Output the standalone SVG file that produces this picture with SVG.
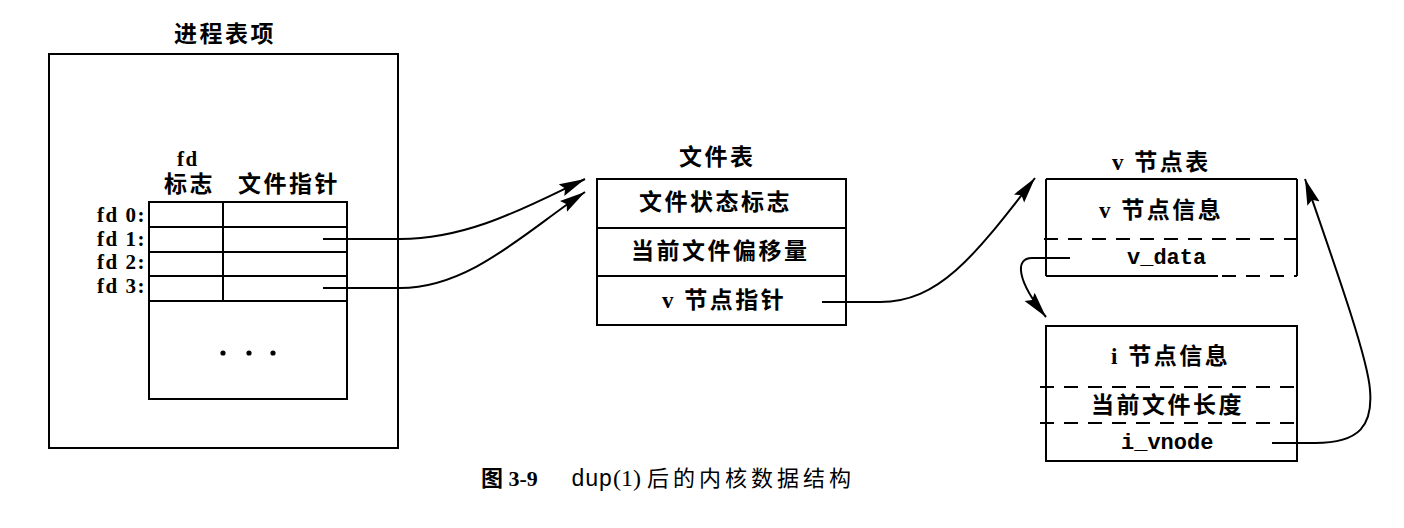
<svg xmlns="http://www.w3.org/2000/svg" width="1404" height="528" viewBox="0 0 1404 528">
<style>
.box{fill:none;stroke:#000;stroke-width:2}
.ln{fill:none;stroke:#000;stroke-width:2}
.dash{fill:none;stroke:#000;stroke-width:2;stroke-dasharray:14 10}
.cn{fill:none;stroke:#000;stroke-width:2}
.cjk{font-family:"Liberation Serif","Noto Sans CJK SC",serif;font-weight:bold;font-size:23px;letter-spacing:2.5px;fill:#000}
.lab{font-family:"Liberation Serif","Noto Sans CJK SC",serif;font-weight:bold;font-size:21px;letter-spacing:1.5px;fill:#000}
.mono{font-family:"Liberation Mono",monospace;font-weight:bold;font-size:22px;fill:#000}
</style>
<defs>
<marker id="ah" markerUnits="userSpaceOnUse" markerWidth="30" markerHeight="16" refX="26" refY="6.5" orient="auto">
<path d="M0,0 L26,6.5 L0,13 L4,6.5 z" fill="#000"/>
</marker>
</defs>
<rect width="1404" height="528" fill="#fff"/>

<g id="process-entry">
<text class="cjk" x="174" y="42">进程表项</text>
<rect class="box" x="49" y="54" width="349" height="394"/>
<text class="lab" x="177" y="166">fd</text>
<text class="cjk" x="164" y="192">标志</text>
<text class="cjk" x="238" y="192">文件指针</text>
<rect class="box" x="149" y="202" width="198" height="197"/>
<line class="ln" x1="149" y1="227" x2="347" y2="227"/>
<line class="ln" x1="149" y1="252" x2="347" y2="252"/>
<line class="ln" x1="149" y1="276" x2="347" y2="276"/>
<line class="ln" x1="149" y1="301" x2="347" y2="301"/>
<line class="ln" x1="223" y1="202" x2="223" y2="301"/>
<text class="lab" x="146" y="222" text-anchor="end">fd 0:</text>
<text class="lab" x="146" y="246" text-anchor="end">fd 1:</text>
<text class="lab" x="146" y="269" text-anchor="end">fd 2:</text>
<text class="lab" x="146" y="293" text-anchor="end">fd 3:</text>
<circle cx="223" cy="353" r="2.6" fill="#000"/>
<circle cx="249" cy="353" r="2.6" fill="#000"/>
<circle cx="273" cy="353" r="2.6" fill="#000"/>
</g>

<g id="file-table">
<text class="cjk" x="679" y="165">文件表</text>
<rect class="box" x="597" y="179" width="249" height="146"/>
<line class="ln" x1="597" y1="228" x2="846" y2="228"/>
<line class="ln" x1="597" y1="276" x2="846" y2="276"/>
<text class="cjk" x="639" y="210">文件状态标志</text>
<text class="cjk" x="631" y="259">当前文件偏移量</text>
<text class="cjk" x="662" y="308">v 节点指针</text>
</g>

<g id="vnode-table">
<text class="cjk" x="1112" y="170">v 节点表</text>
<line class="ln" x1="1046" y1="179" x2="1297" y2="179"/>
<line class="ln" x1="1046" y1="179" x2="1046" y2="276"/>
<line class="ln" x1="1297" y1="179" x2="1297" y2="276"/>
<line class="ln" x1="1046" y1="276" x2="1218" y2="276"/>
<line class="dash" x1="1222" y1="276" x2="1297" y2="276"/>
<line class="dash" x1="1044" y1="239" x2="1299" y2="239"/>
<text class="cjk" x="1099" y="218">v 节点信息</text>
<text class="mono" x="1127" y="264">v_data</text>
</g>

<g id="inode-info">
<rect class="box" x="1046" y="326" width="251" height="135"/>
<line class="dash" x1="1040" y1="387" x2="1302" y2="387"/>
<line class="dash" x1="1040" y1="423" x2="1302" y2="423"/>
<text class="cjk" x="1111" y="364">i 节点信息</text>
<text class="cjk" x="1091" y="413">当前文件长度</text>
<text class="mono" x="1121" y="449">i_vnode</text>
</g>

<g id="connectors">
<path class="cn" d="M323,239 L400,239 C470,239 528,206 585,179" marker-end="url(#ah)"/>
<path class="cn" d="M323,288 L400,288 C470,288 525,232 585,192" marker-end="url(#ah)"/>
<path class="cn" d="M822,302 L880,302 C940,302 975,255 1035,178" marker-end="url(#ah)"/>
<path class="cn" d="M1070,258 L1032,258 C1015,258 1016,280 1046,317" marker-end="url(#ah)"/>
<path class="cn" d="M1272,443 L1315,443 C1360,443 1373,425 1370,390 C1368,360 1340,280 1305,179" marker-end="url(#ah)"/>
</g>

<g id="caption">
<text x="481" y="486" style="font-family:'Liberation Serif','Noto Sans CJK SC',serif;font-weight:bold;font-size:22px;fill:#000">图 3-9</text>
<text x="571" y="486" style="font-family:'Liberation Mono',monospace;font-size:23px;fill:#000">dup</text>
<text x="613" y="486" style="font-family:'Liberation Serif',serif;font-size:24px;fill:#000">(1)</text>
<text x="647" y="486" style="font-family:'Noto Sans CJK SC',sans-serif;font-size:22px;letter-spacing:4px;fill:#000">后的内核数据结构</text>
</g>
</svg>
